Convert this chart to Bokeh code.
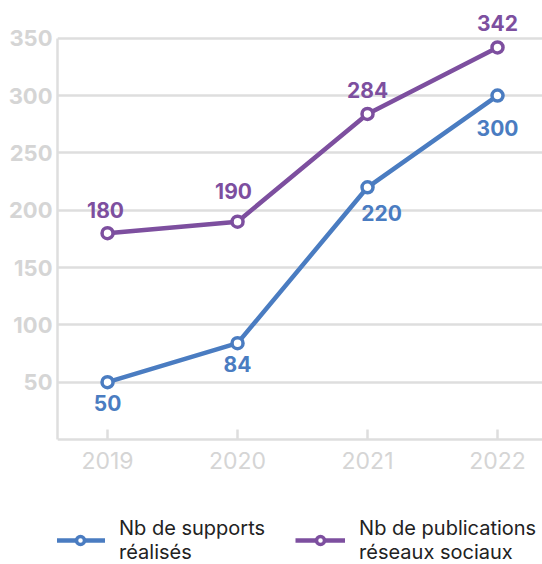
from bokeh.plotting import figure
from bokeh.models import Range1d, FixedTicker, Legend, LegendItem, ColumnDataSource
from bokeh.core.properties import value
from bokeh.embed import file_html
from bokeh.resources import INLINE

years = [2019, 2020, 2021, 2022]
supports = [50, 84, 220, 300]
publications = [180, 190, 284, 342]
y_ticks = [50, 100, 150, 200, 250, 300, 350]
series_names = ["Nb de supports\nréalisés", "Nb de publications\nréseaux sociaux"]

BLUE = "#4a7cc1"
PURPLE = "#7d4f9f"
GRAY_TXT = "#d5d5d5"
GRID = "#dedede"
FONT = "Inter"

p = figure(frame_width=485, frame_height=556, output_backend="svg", toolbar_location=None,
           x_range=Range1d(2018.615, 2022.346), y_range=Range1d(-109.1, 376),
           min_border_left=57, min_border_right=0, min_border_top=8, min_border_bottom=0)
p.outline_line_color = None
p.background_fill_color = "white"
p.border_fill_color = "white"

p.xgrid.grid_line_color = None
p.ygrid.grid_line_color = GRID
p.ygrid.grid_line_width = 2.5
p.ygrid.ticker = FixedTicker(ticks=y_ticks)

p.yaxis.ticker = FixedTicker(ticks=y_ticks)
p.yaxis.bounds = (0, 350)
p.yaxis.major_tick_in = 0
p.yaxis.major_tick_out = 0
p.yaxis.minor_tick_in = 0
p.yaxis.minor_tick_out = 0
p.yaxis.major_tick_line_color = None
p.yaxis.minor_tick_line_color = None
p.yaxis.axis_line_color = GRID
p.yaxis.axis_line_width = 2.5
p.yaxis.major_label_text_color = GRAY_TXT
p.yaxis.major_label_text_font = FONT
p.yaxis.major_label_text_font_style = "bold"
p.yaxis.major_label_text_font_size = "22px"
p.yaxis.major_label_standoff = 5

p.xaxis.fixed_location = 0
p.xaxis.ticker = FixedTicker(ticks=years)
p.xaxis.major_tick_in = 10
p.xaxis.major_tick_out = 0
p.xaxis.minor_tick_in = 0
p.xaxis.minor_tick_out = 0
p.xaxis.major_tick_line_color = GRID
p.xaxis.major_tick_line_width = 2.5
p.xaxis.minor_tick_line_color = None
p.xaxis.axis_line_color = GRID
p.xaxis.axis_line_width = 2.5
p.xaxis.major_label_text_color = GRAY_TXT
p.xaxis.major_label_text_font = FONT
p.xaxis.major_label_text_font_size = "23px"
p.xaxis.major_label_standoff = 13

src_b = ColumnDataSource(dict(x=years, y=supports, t=[str(v) for v in supports],
                              dx=[0, 0, 14, 0], dy=[21, 21, 26, 32]))
src_p = ColumnDataSource(dict(x=years, y=publications, t=[str(v) for v in publications],
                              dx=[-2, -4, 0, 0], dy=[-23, -31, -24, -24]))

lb = p.line("x", "y", source=src_b, line_color=BLUE, line_width=4.5)
cb = p.scatter("x", "y", source=src_b, size=11, fill_color="white", line_color=BLUE, line_width=3.5)
lp = p.line("x", "y", source=src_p, line_color=PURPLE, line_width=4.5)
cp = p.scatter("x", "y", source=src_p, size=11, fill_color="white", line_color=PURPLE, line_width=3.5)

for src, col in ((src_b, BLUE), (src_p, PURPLE)):
    p.text("x", "y", text="t", source=src, x_offset="dx", y_offset="dy",
           text_color=col, text_font=value(FONT), text_font_style="bold",
           text_font_size="21px", text_align="center", text_baseline="middle")

legend = Legend(items=[LegendItem(label=series_names[0], renderers=[lb, cb]),
                       LegendItem(label=series_names[1], renderers=[lp, cp])],
                orientation="horizontal", location=(-2, 0),
                glyph_width=50, glyph_height=20, label_standoff=14, spacing=30,
                padding=0, margin=0, border_line_color=None, background_fill_alpha=0,
                label_text_font=FONT, label_text_font_size="20px",
                label_text_color="#222222", label_height=20)
p.add_layout(legend, "center")

open("out.html", "w").write(file_html(p, INLINE))
